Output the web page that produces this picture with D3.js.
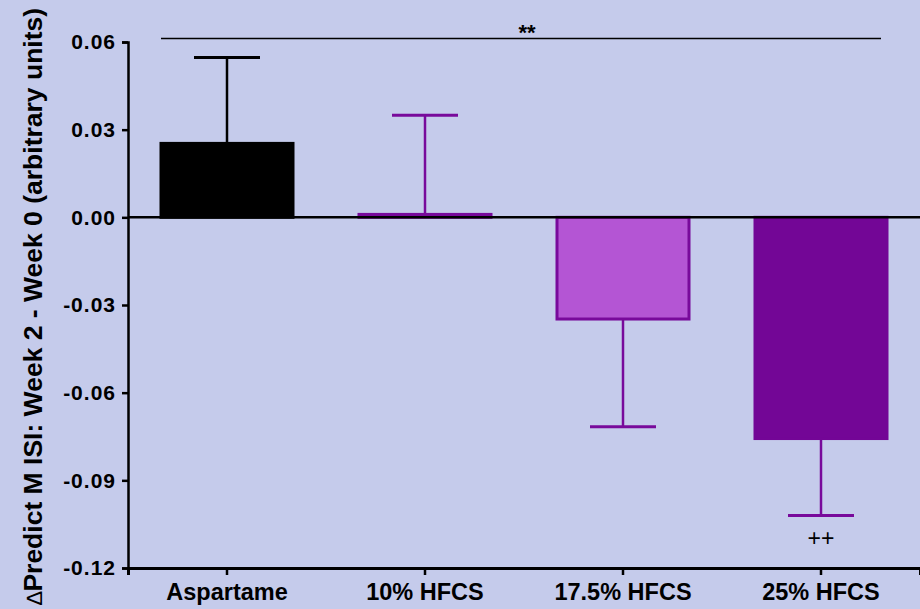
<!DOCTYPE html>
<html lang="en">
<head>
<meta charset="UTF-8">
<title>Predict M ISI</title>
<style>
  body { margin: 0; background: #c5cbeb; }
  svg { display: block; font-family: "Liberation Sans", Arial, sans-serif; }
  .yAxis text, .xAxis text { font-weight: bold; fill: #000; font-family: "Liberation Sans", Arial, sans-serif; }
</style>
</head>
<body>
<div id="chart"></div>
<script src="https://cdn.jsdelivr.net/npm/d3@7"></script>
<script>
// data
let groups = ['Aspartame', '10% HFCS', '17.5% HFCS', '25% HFCS']
let means = [0.0253, 0.001, -0.0348, -0.0757]
let errEnds = [0.0547, 0.0349, -0.0717, -0.1020]
let yTicks = [0.06, 0.03, 0.00, -0.03, -0.06, -0.09, -0.12]
let fills = ['#000000', '#b455d4', '#b455d4', '#730696']
let strokes = ['#000000', '#780a9b', '#780a9b', '#730696']
let errColors = ['#000000', '#780a9b', '#780a9b', '#780a9b']

let width = 920
let height = 609
let plotLeft = 128
let plotRight = 920
let plotTop = 42
let plotBottom = 568

let svg = d3.select('#chart').append('svg').attr('width', width).attr('height', height)
svg.append('rect').attr('width', width).attr('height', height).attr('fill', '#c5cbeb')

let x = d3.scaleBand().domain(groups).range([plotLeft, plotRight]).paddingInner(1 / 3).paddingOuter(1 / 6)
let y = d3.scaleLinear().domain([-0.12, 0.06]).range([plotBottom, plotTop])

// y axis
let yAxis = d3.axisLeft(y).tickValues(yTicks).tickFormat(d3.format('.2f')).tickSizeOuter(0).tickSize(6).tickPadding(6)
let gy = svg.append('g').attr('class', 'yAxis').attr('transform', 'translate(' + plotLeft + ',0)').call(yAxis)
gy.select('.domain').attr('stroke-width', 2.5).attr('stroke', '#000')
gy.selectAll('.tick line').attr('stroke-width', 2.5).attr('stroke', '#000')
gy.selectAll('.tick text').attr('font-size', 21).attr('letter-spacing', 1)
  .text(d => d3.format('.2f')(d).replace('\u2212', '-'))

// x axis at bottom
let xAxis = d3.axisBottom(x).tickSizeOuter(0).tickSize(7).tickPadding(9)
let gx = svg.append('g').attr('class', 'xAxis').attr('transform', 'translate(0,' + plotBottom + ')').call(xAxis)
gx.select('.domain').attr('stroke-width', 3).attr('stroke', '#000')
gx.selectAll('.tick line').attr('stroke-width', 2.5).attr('stroke', '#000')
gx.selectAll('.tick text').attr('font-size', 23.5).attr('dy', '0.68em')

// error bars (drawn before bars)
let errG = svg.append('g')
groups.forEach((g, i) => {
  let cx = x(g) + x.bandwidth() / 2
  let c = errColors[i]
  errG.append('line').attr('x1', cx).attr('x2', cx).attr('y1', y(means[i])).attr('y2', y(errEnds[i]))
    .attr('stroke', c).attr('stroke-width', 2.5)
  errG.append('line').attr('x1', cx - 33).attr('x2', cx + 33).attr('y1', y(errEnds[i])).attr('y2', y(errEnds[i]))
    .attr('stroke', c).attr('stroke-width', 3)
})

// bars
svg.append('g').selectAll('rect').data(groups).join('rect')
  .attr('x', d => x(d))
  .attr('width', x.bandwidth())
  .attr('y', (d, i) => y(Math.max(0, means[i])))
  .attr('height', (d, i) => Math.abs(y(means[i]) - y(0)))
  .attr('fill', (d, i) => fills[i])
  .attr('stroke', (d, i) => strokes[i])
  .attr('stroke-width', 3)

// zero line
svg.append('line').attr('x1', plotLeft).attr('x2', plotRight).attr('y1', y(0)).attr('y2', y(0))
  .attr('stroke', '#000').attr('stroke-width', 2.5)

// significance bracket
let sigY = 38.5
let sigX1 = x(groups[0])
let sigX2 = x(groups[3]) + x.bandwidth() - 6
svg.append('line').attr('x1', sigX1).attr('x2', sigX2).attr('y1', sigY).attr('y2', sigY)
  .attr('stroke', '#000').attr('stroke-width', 1.5)
svg.append('text').text('**').attr('x', (sigX1 + sigX2) / 2 + 6).attr('y', 40)
  .attr('text-anchor', 'middle').attr('font-size', 22).attr('font-weight', 'bold')

// ++ under 25% HFCS
svg.append('text').text('++').attr('x', x(groups[3]) + x.bandwidth() / 2).attr('y', 546)
  .attr('text-anchor', 'middle').attr('font-size', 23)

// y title
let yTitle = svg.append('text')
  .attr('transform', 'translate(42,' + (height / 2 + 2) + ') rotate(-90)')
  .attr('text-anchor', 'middle')
  .attr('font-size', 26.5)
  .attr('font-weight', 'bold')
yTitle.append('tspan').attr('font-weight', 'normal').attr('font-size', 22).text('\u2206')
yTitle.append('tspan').text('Predict M ISI: Week 2 - Week 0 (arbitrary units)')
</script>
</body>
</html>
